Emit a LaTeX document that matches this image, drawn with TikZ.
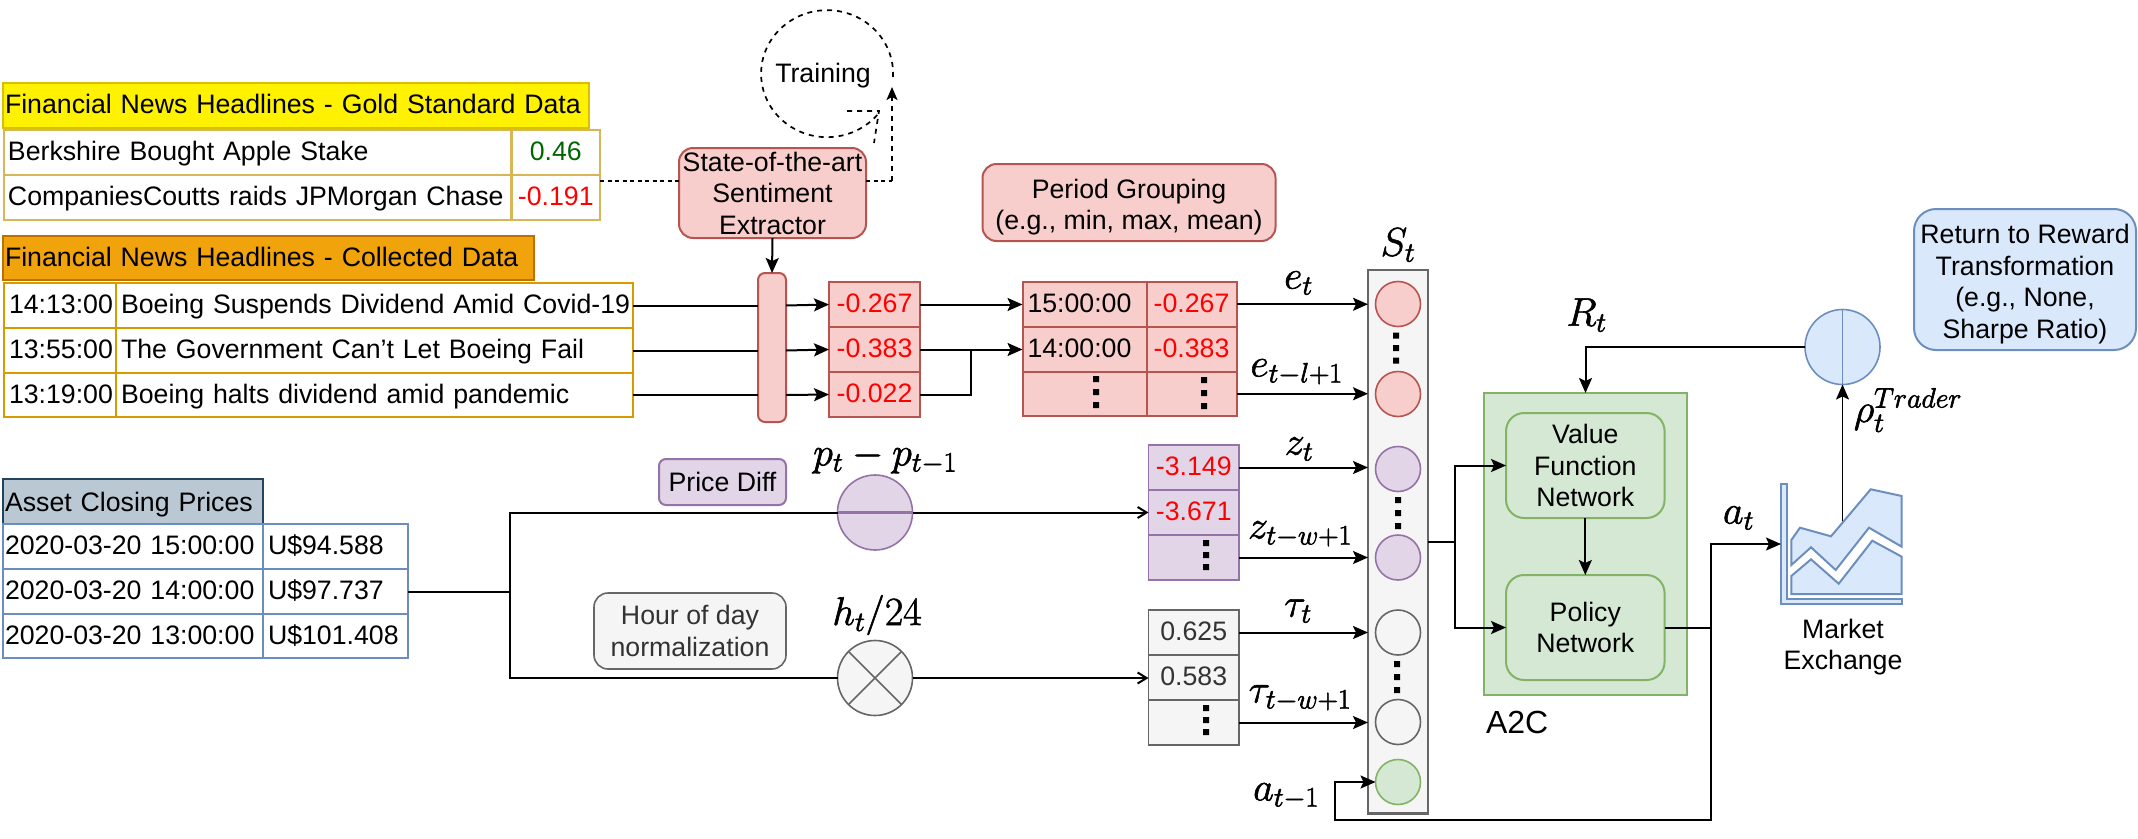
\RequirePackage{fix-cm}
\documentclass[tikz,border=0pt]{standalone}
\usepackage[no-math]{fontspec}
\setmainfont{Liberation Sans}
\usetikzlibrary{arrows.meta,calc}
\definecolor{redf}{HTML}{F8CECC}\definecolor{redl}{HTML}{B85450}
\definecolor{purf}{HTML}{E1D5E7}\definecolor{purl}{HTML}{9673A6}
\definecolor{gryf}{HTML}{F5F5F5}\definecolor{gryl}{HTML}{666666}
\definecolor{grnf}{HTML}{D5E8D4}\definecolor{grnl}{HTML}{82B366}
\definecolor{bluf}{HTML}{DAE8FC}\definecolor{blul}{HTML}{6C8EBF}
\definecolor{goldl}{HTML}{D6B656}\definecolor{orgl}{HTML}{D79B00}
\definecolor{orgf}{HTML}{F0A30A}\definecolor{orgd}{HTML}{BD7000}
\definecolor{stlf}{HTML}{BAC8D3}\definecolor{stll}{HTML}{23445D}
\definecolor{yell}{HTML}{D7C000}\definecolor{txtg}{HTML}{333333}
\definecolor{valg}{HTML}{006600}
\newcommand{\lcell}[7]{%
  \pgfmathsetmacro\cellx{(#2+#4)/2}\pgfmathsetmacro\celly{(#3+#5)/2}%
  \pgfmathsetmacro\cellw{#4-#2}\pgfmathsetmacro\cellh{#5-#3}\pgfmathsetmacro\celltw{#4-#2-5}%
  \node[#6,minimum width=\cellw pt,minimum height=\cellh pt,text width=\celltw pt,inner xsep=2.5pt,align=left,xshift=0pt] (#1) at (\cellx,\celly) {\makebox[0pt][l]{\hspace{2.5pt}\cellstrut #7}};}
\newcommand{\ccell}[7]{%
  \pgfmathsetmacro\cellx{(#2+#4)/2}\pgfmathsetmacro\celly{(#3+#5)/2}%
  \pgfmathsetmacro\cellw{#4-#2}\pgfmathsetmacro\cellh{#5-#3}%
  \node[#6,minimum width=\cellw pt,minimum height=\cellh pt] (#1) at (\cellx,\celly) {\cellstrut #7};}
\newcommand{\cellstrut}{\vrule height 24pt depth 8pt width 0pt\relax}
\newcommand{\dnstrut}{\vrule height 29pt depth 0pt width 0pt\relax}
\newcommand{\heavy}[1]{\special{pdf:code q 2 Tr 0.6 w}#1\special{pdf:code Q}}
\newcommand{\sqdots}[4]{\fill (#1-3,#2-3) rectangle (#1+3,#2+3) (#1-3,#3-3) rectangle (#1+3,#3+3) (#1-3,#4-3) rectangle (#1+3,#4+3);}
\tikzset{
  every node/.style={font=\fontsize{26.7}{31.5}\selectfont,inner sep=0pt,outer sep=0pt},
  mathlbl/.style={font=\fontsize{40}{48}\selectfont},
  conn/.style={line width=2pt,draw=black},
  arr/.style={conn,-{Stealth[length=15pt,width=13pt,inset=3pt]}},
  openarr/.style={conn,-{Straight Barb[length=9pt,width=11pt]}},
  dsh/.style={line width=1.7pt,dash pattern=on 5pt off 5pt},
  goldcell/.style={draw=goldl,line width=2.5pt},
  orgcell/.style={draw=orgl,line width=2.5pt},
  blucell/.style={draw=blul,line width=2.2pt},
  redcell/.style={draw=redl,fill=redf,line width=2pt},
  purcell/.style={draw=purl,fill=purf,line width=1.6pt},
  grycell/.style={draw=gryl,fill=gryf,line width=1.6pt,text=txtg},
  redbox/.style={draw=redl,fill=redf,line width=2pt,rounded corners=14pt,align=center},
  grnbox/.style={draw=grnl,fill=grnf,line width=2pt,rounded corners=18pt,align=center},
  crc/.style={circle,minimum size=45pt,line width=1.6pt},
  bigcrc/.style={circle,minimum size=75pt,line width=1.6pt},
}
\begin{document}
\begin{tikzpicture}[x=1pt,y=-1pt]
\useasboundingbox (0,0) rectangle (2138,838);
% gold standard
\lcell{ghead}{3}{83}{589}{128}{draw=yell,fill=yellow,line width=2.5pt}{\hspace{-3pt}Financial News Headlines - Gold Standard Data}
\lcell{g1t}{4}{130}{511.5}{175}{goldcell}{\hspace{-1pt}Berkshire Bought Apple Stake}
\ccell{g1v}{511.5}{130}{600}{175}{goldcell,text=valg}{0.46}
\lcell{g2t}{4}{175}{511.5}{220}{goldcell}{\hspace{-1pt}CompaniesCoutts raids JPMorgan Chase}
\ccell{g2v}{511.5}{175}{600}{220}{goldcell,text=red}{-0.191}
% collected
\lcell{chead}{3}{236}{534}{280}{draw=orgd,fill=orgf,line width=2.5pt}{\hspace{-3pt}Financial News Headlines - Collected Data}
\lcell{c1a}{4}{283}{116}{328}{orgcell}{14:13:00}
\lcell{c1b}{116}{283}{633}{328}{orgcell}{Boeing Suspends Dividend Amid Covid-19}
\lcell{c2a}{4}{328}{116}{373}{orgcell}{13:55:00}
\lcell{c2b}{116}{328}{633}{373}{orgcell}{The Government Can't Let Boeing Fail}
\lcell{c3a}{4}{373}{116}{417}{orgcell}{13:19:00}
\lcell{c3b}{116}{373}{633}{417}{orgcell}{Boeing halts dividend amid pandemic}
% extractor and bar
\node[redbox,minimum width=187pt,minimum height=90pt] (ext) at (772.5,193) {State-of-the-art\\Sentiment\\Extractor};
\node[draw=redl,fill=redf,line width=2pt,rounded corners=7pt,minimum width=28pt,minimum height=149pt] (bar) at (772,347.5) {};
\draw[arr] (ext.south) -- (bar.north);
% sentiment scores
\ccell{s1}{829}{282}{920}{327}{redcell,text=red}{-0.267}
\ccell{s2}{829}{327}{920}{372}{redcell,text=red}{-0.383}
\ccell{s3}{829}{372}{920}{417}{redcell,text=red}{-0.022}
\foreach \a/\b in {c1b/s1,c2b/s2,c3b/s3}{
  \draw[conn] (\a.east) -- (\a.east -| bar.west);
  \draw[arr] (\a.east -| bar.east) -- (\b.west);
}
% training
\node (train) at (823,76) {Training};
\draw[dsh] (893,77) arc[start angle=3,end angle=-323,x radius=66,y radius=63.5];
\coordinate (th1) at (847,111);\coordinate (th2) at (879,111);\coordinate (th3) at (874,143);
\draw[dsh] (th1) -- (th2) -- (th3);
\coordinate (gl) at (600,181);
\draw[conn,dash pattern=on 4pt off 3.5pt] (gl) -- (gl -| ext.west);
\coordinate (gr) at (892,181);\coordinate (gt) at (892,87);
\draw[conn,dash pattern=on 4pt off 3.5pt] (ext.east |- gr) -- (gr);
\draw[dsh,-{Stealth[length=13pt,width=11pt,inset=3pt]}] (gr) -- (gt);
% period grouping
\node[redbox,minimum width=293pt,minimum height=77pt] (pgb) at (1129,202.5) {\dnstrut Period Grouping\\(e.g., min, max, mean)};
\lcell{p1a}{1022.5}{281.5}{1146.5}{327}{redcell}{15:00:00}
\ccell{p1b}{1146.5}{281.5}{1236.5}{327}{redcell,text=red}{-0.267}
\lcell{p2a}{1022.5}{327}{1146.5}{371.5}{redcell}{14:00:00}
\ccell{p2b}{1146.5}{327}{1236.5}{371.5}{redcell,text=red}{-0.383}
\ccell{p3a}{1022.5}{371.5}{1146.5}{416}{redcell}{}
\ccell{p3b}{1146.5}{371.5}{1236.5}{416}{redcell}{}
\sqdots{1096}{379}{392}{405}
\sqdots{1204}{380}{393}{406}
\draw[arr] (s1.east) -- (s1.east -| p1a.west);
\draw[arr] (s2.east) -- (s2.east -| p2a.west);
\coordinate (mg) at (971,349);
\draw[conn] (s3.east) -| (mg);
% state panel
\node[draw=gryl,fill=gryf,line width=2.5pt,minimum width=60pt,minimum height=543.5pt] (panel) at (1398,541.8) {};
\node[mathlbl] (slbl) at (1398,245) {\heavy{$S_t$}};
\node[crc,draw=redl,fill=redf] (e1) at (1398,304) {};
\node[crc,draw=redl,fill=redf] (e2) at (1398,394) {};
\node[crc,draw=purl,fill=purf] (z1) at (1398,469) {};
\node[crc,draw=purl,fill=purf] (z2) at (1398,557.5) {};
\node[crc,draw=gryl,fill=gryf] (t1) at (1398,632.5) {};
\node[crc,draw=gryl,fill=gryf] (t2) at (1398,722) {};
\node[crc,draw=grnl,fill=grnf] (a1) at (1398,782) {};
\sqdots{1396}{335.5}{348}{360.5}
\sqdots{1398}{500}{513}{526}
\sqdots{1397}{664}{677}{690}
% price tables
\ccell{z1c}{1148.5}{445}{1239}{490}{purcell,text=red}{-3.149}
\ccell{z2c}{1148.5}{490}{1239}{535}{purcell,text=red}{-3.671}
\ccell{z3c}{1148.5}{535}{1239}{580}{purcell}{}
\sqdots{1206}{543}{555}{567}
\ccell{h1c}{1148.5}{610}{1239}{655}{grycell}{0.625}
\ccell{h2c}{1148.5}{655}{1239}{700}{grycell}{0.583}
\ccell{h3c}{1148.5}{700}{1239}{745}{grycell}{}
\sqdots{1206}{708}{720}{732}
\draw[arr] (p1b.east) -- (p1b.east -| panel.west);
\draw[arr] (p3b.east) -- (p3b.east -| panel.west);
\draw[arr] (z1c.east) -- (z1c.east -| panel.west);
\draw[arr] (z3c.east) -- (z3c.east -| panel.west);
\draw[arr] (h1c.east) -- (h1c.east -| panel.west);
\draw[arr] (h3c.east) -- (h3c.east -| panel.west);
\node[mathlbl] (le1) at (1298.5,283) {\heavy{$e_t$}};
\node[mathlbl] (le2) at (1296.5,372) {\heavy{$e_{t-l+1}$}};
\node[mathlbl] (lz1) at (1299,449) {\heavy{$z_t$}};
\node[mathlbl] (lz2) at (1300,534) {\heavy{$z_{t-w+1}$}};
\node[mathlbl] (lt1) at (1298,611) {\heavy{$\tau_t$}};
\node[mathlbl] (lt2) at (1300,698) {\heavy{$\tau_{t-w+1}$}};
\node[mathlbl] (la1) at (1286,796) {\heavy{$a_{t-1}$}};
% asset table
\lcell{ahead}{3}{479}{263}{524}{draw=stll,fill=stlf,line width=2.5pt}{\hspace{-3pt}\raisebox{-2.5pt}{Asset Closing Prices}}
\lcell{a1d}{3}{524}{263}{569}{blucell}{\hspace{-3pt}2020-03-20 15:00:00}
\lcell{a1v}{263}{524}{408}{569}{blucell}{U\$94.588}
\lcell{a2d}{3}{569}{263}{614}{blucell}{\hspace{-3pt}2020-03-20 14:00:00}
\lcell{a2v}{263}{569}{408}{614}{blucell}{U\$97.737}
\lcell{a3d}{3}{614}{263}{658}{blucell}{\hspace{-3pt}2020-03-20 13:00:00}
\lcell{a3v}{263}{614}{408}{658}{blucell}{U\$101.408}
% price branch
\coordinate (jn) at (510,591.5);
\node[bigcrc,draw=purl,fill=purf] (pc) at (875,512.5) {};
\node[bigcrc,draw=gryl,fill=gryf] (hc) at (875,678) {};
\draw[draw=purl,line width=2.2pt] (pc.west) -- (pc.east);
\draw[draw=gryl,line width=1.6pt] (hc.north west) -- (hc.south east) (hc.north east) -- (hc.south west);
\draw[conn] (a2v.east) -- (jn);
\draw[conn] (jn) |- (pc.west);
\draw[conn] (jn) |- (hc.west);
\draw[openarr] (pc.east) -- (pc.east -| z2c.west);
\draw[openarr] (hc.east) -- (hc.east -| h2c.west);
\node[draw=purl,fill=purf,line width=2pt,rounded corners=7pt,minimum width=127pt,minimum height=46pt] (pdb) at (722.5,482) {Price Diff};
\node[draw=gryl,fill=gryf,line width=1.6pt,rounded corners=14pt,minimum width=192pt,minimum height=76pt,align=center,text=txtg] (hdb) at (690,631) {Hour of day\\normalization};
\node[mathlbl] (lp) at (885,458) {\heavy{$p_t-p_{t-1}$}};
\node[mathlbl] (lh) at (877,615) {\heavy{$h_t/24$}};
% A2C
\node[draw=grnl,fill=grnf,line width=2pt,minimum width=203pt,minimum height=302pt] (a2c) at (1585.5,544) {};
\node[grnbox,minimum width=158.5pt,minimum height=105pt] (val) at (1585.3,465.5) {Value\\Function\\Network};
\node[grnbox,minimum width=158.5pt,minimum height=105pt] (pol) at (1585.3,627.5) {Policy\\Network};
\node[anchor=west,font=\fontsize{32}{38}\selectfont] (a2clbl) at (1486,722) {A2C};
\draw[arr] (val.south) -- (pol.north);
\coordinate (jp) at (1455,541.8);
\draw[conn] (panel.east) -- (jp);
\draw[arr] (jp) |- (val.west);
\draw[arr] (jp) |- (pol.west);
% market
\coordinate (chin) at (1781,544);
\coordinate (chtop) at (1842.5,522);
\node[bigcrc,draw=blul,fill=bluf] (rc) at (1842.5,347) {};
\draw[draw=blul,line width=1.6pt] (rc.north) -- (rc.south);
\draw[conn,-{Stealth[length=15pt,width=13pt,inset=3pt]},line width=1.8pt] (chtop) -- (rc.south);
\draw[blul,fill=bluf,line width=2pt] (1781,484) -- (1786.7,484) -- (1786.7,599.3) -- (1901.7,599.3) -- (1901.7,604.3) -- (1781,604.3) -- cycle;
\draw[blul,fill=bluf,line width=2pt] (1791.3,540) -- (1800,527.7) -- (1831,536.3) -- (1870.7,489.3) -- (1901.7,496) -- (1901.7,546.7) -- (1869,527.7) -- (1835.7,570) -- (1811,547.3) -- (1791.3,565) -- cycle;
\draw[blul,fill=bluf,line width=2pt] (1791.3,576) -- (1811,559.3) -- (1838.7,583.7) -- (1872.3,540.7) -- (1901.7,556.7) -- (1901.7,594) -- (1791.3,594) -- cycle;
\node[align=center] (mkt) at (1843,647) {Market\\Exchange};
\draw[arr] (rc.west) -| (a2c.north);
\node[mathlbl] (lr) at (1586.5,315) {\heavy{$R_t$}};
\node[mathlbl] (lrho) at (1908,410) {\heavy{$\rho_t^{Trader}$}};
\node[mathlbl] (lat) at (1738.5,518) {\heavy{$a_t$}};
\node[draw=blul,fill=bluf,line width=2pt,rounded corners=22pt,minimum width=222pt,minimum height=141pt,align=center] (rew) at (2025,279.5) {\dnstrut Return to Reward\\Transformation\\(e.g., None,\\Sharpe Ratio)};
\coordinate (kp) at (1711,627.5);
\coordinate (kd) at (1711,820);
\coordinate (kl) at (1335,820);
\draw[conn] (pol.east) -- (kp);
\draw[arr] (kp) |- (chin);
\draw[arr] (kp) -- (kd) -- (kl) |- (a1.west);
\end{tikzpicture}
\end{document}
